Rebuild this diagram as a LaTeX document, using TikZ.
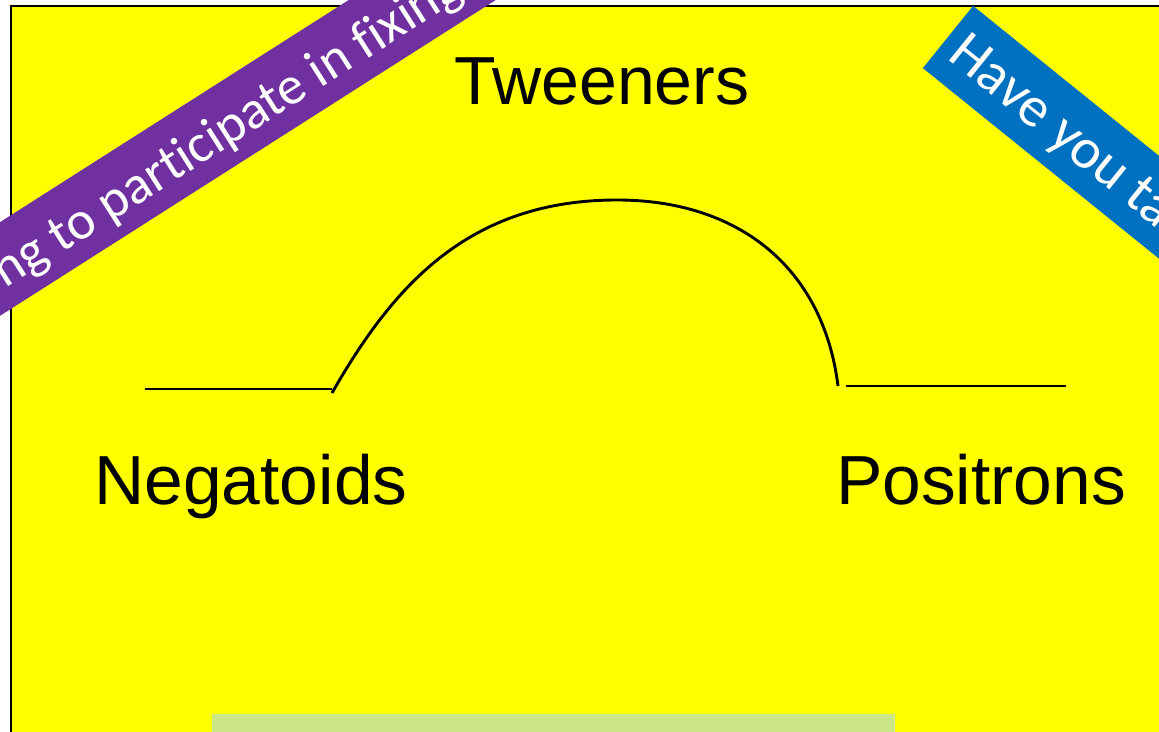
\documentclass[tikz,border=0pt]{standalone}
\usepackage{fontspec}
\setmainfont{Liberation Sans}
\newfontfamily\bannerfont[Ligatures=NoCommon]{Carlito}
\definecolor{slideyellow}{RGB}{255,255,0}
\definecolor{bandpurple}{RGB}{112,48,160}
\definecolor{bandblue}{RGB}{0,112,192}
\definecolor{barGreen}{RGB}{205,230,135}
\tikzset{
  bigtext/.style={inner sep=0pt, anchor=base, font=\fontsize{69.5}{80}\selectfont},
  bandtext/.style={inner sep=0pt, anchor=base west, text=white, font=\bannerfont\fontsize{54}{60}\selectfont},
  curve/.style={line width=2.9pt, black},
}
\begin{document}
\begin{tikzpicture}[x=1pt,y=1pt]
\useasboundingbox (0,0) rectangle (1159,731);
\clip (0,0) rectangle (1159,731);
\fill[white] (0,0) rectangle (1159,731);
% slide
\draw[fill=slideyellow, line width=1.4pt] (11,-20) -- (11,725) -- (1180,725) -- (1180,-20) -- cycle;
% green bar
\fill[barGreen] (212,-5) rectangle (895,17);
% texts
\node[bigtext, font=\fontsize{68}{80}\selectfont] (tw) at (602,626) {Tweeners};
\node[bigtext] (neg) at (251,226) {Negatoids};
\node[bigtext] (pos) at (981,226) {Positrons};
% curve
\coordinate (l1) at (145,342);
\coordinate (l2) at (332,342);
\coordinate (a1) at (332,338);
\coordinate (top) at (617,531);
\coordinate (a2) at (838,345);
\coordinate (r1) at (846,345);
\coordinate (r2) at (1066,345);
\draw[curve] (l1) -- (l2);
\draw[curve] (a1) .. controls (392,443) and (467,531) .. (top)
                  .. controls (737,531) and (823,465) .. (a2);
\draw[curve] (r1) -- (r2);
% purple band
\begin{scope}[shift={(0,462)}, rotate=32.5, transform shape]
  \fill[bandpurple] (-300,-39.5) rectangle (900,39.5);
  \node[bandtext] (pband) at (-6,-20) {ng to participate in fixing};
\end{scope}
% blue band
\begin{scope}[shift={(948,694)}, rotate=-38.9, transform shape]
  \fill[bandblue] (0,-40) rectangle (500,40);
  \node[bandtext, font=\bannerfont\fontsize{57}{60}\selectfont] (bband) at (12,-18) {Have you ta};
\end{scope}
\end{tikzpicture}
\end{document}
